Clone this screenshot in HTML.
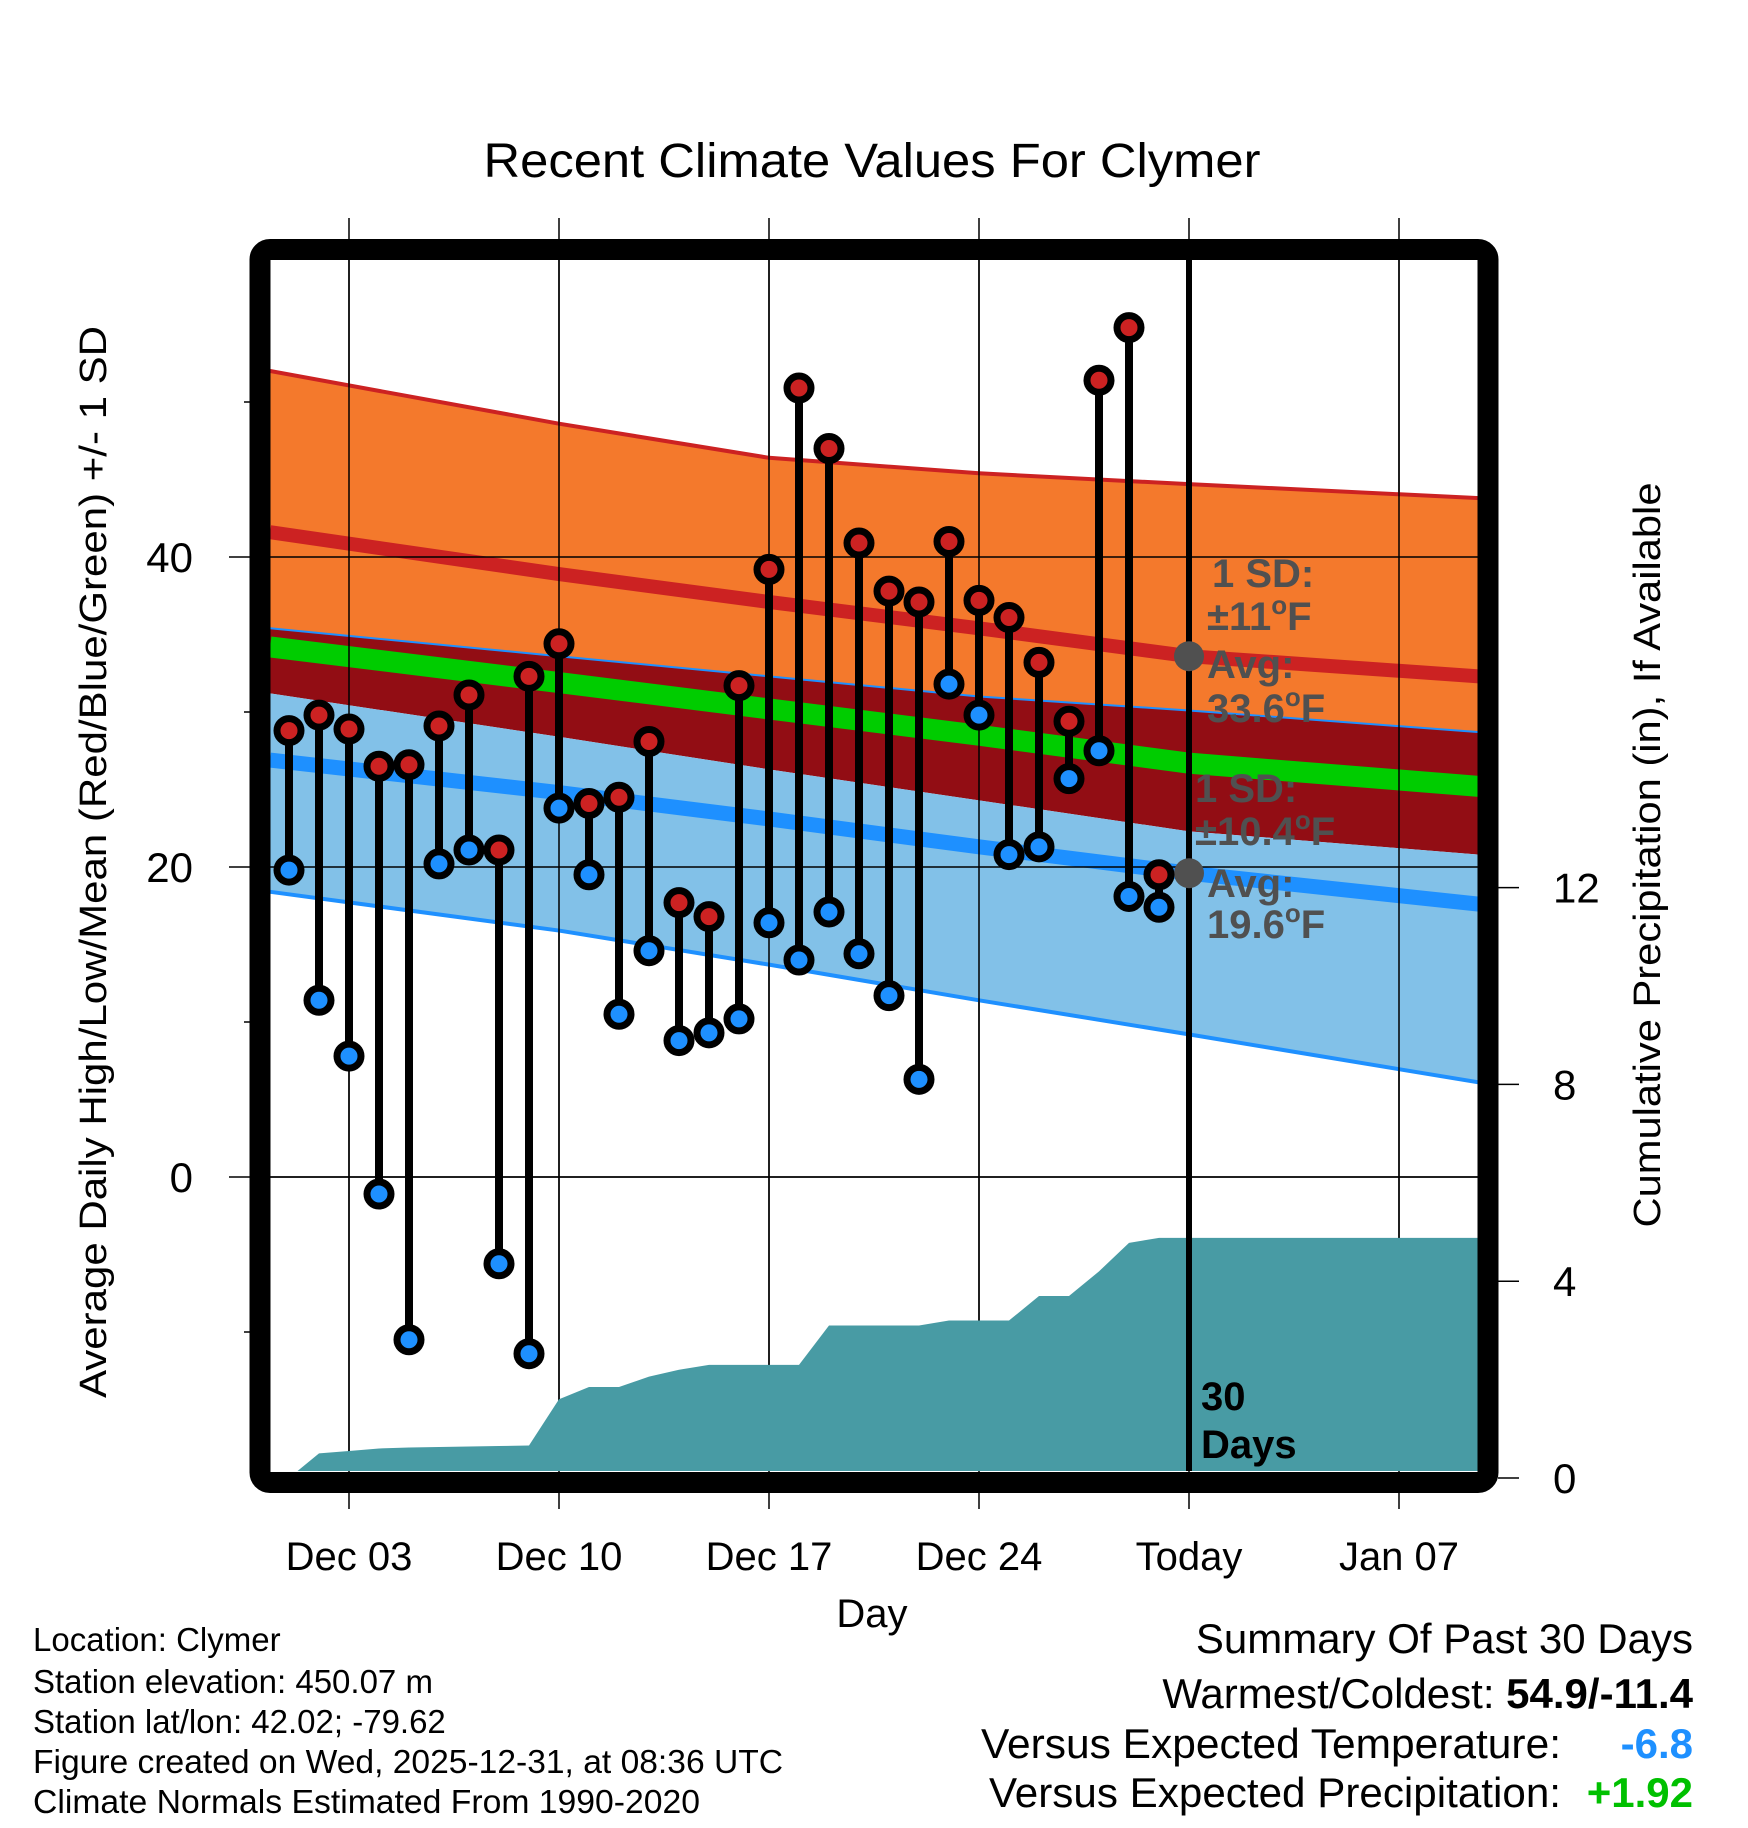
<!DOCTYPE html>
<html><head><meta charset="utf-8"><style>
html,body{margin:0;padding:0;background:#fff;}
svg{display:block;font-family:"Liberation Sans",Arial,sans-serif;}
</style></head><body>
<svg id="chart" width="1748" height="1828" viewBox="0 0 1748 1828" xmlns="http://www.w3.org/2000/svg">
<defs><clipPath id="plotclip"><rect x="270" y="260" width="1209" height="1211"/></clipPath></defs>
<rect x="0" y="0" width="1748" height="1828" fill="#fff"/>
<text x="872" y="177" font-size="48" text-anchor="middle" textLength="777" lengthAdjust="spacingAndGlyphs">Recent Climate Values For Clymer</text>
<g id="grid"></g>
<g id="bands" clip-path="url(#plotclip)"></g>
<g id="gridin" clip-path="url(#plotclip)"></g>
<g id="precip" clip-path="url(#plotclip)"></g>
<g id="annot"></g>
<g id="marks"></g>
<rect x="260" y="249.5" width="1228" height="1233" rx="10" fill="none" stroke="#000" stroke-width="21"/>
<g id="axes"></g>
<text transform="translate(106,862) rotate(-90)" font-size="38" text-anchor="middle" textLength="1072" lengthAdjust="spacingAndGlyphs">Average Daily High/Low/Mean (Red/Blue/Green) +/- 1 SD</text>
<text transform="translate(1660,855) rotate(-90)" font-size="38" text-anchor="middle" textLength="745" lengthAdjust="spacingAndGlyphs">Cumulative Precipitation (in), If Available</text>
<text x="872" y="1627" font-size="40" text-anchor="middle">Day</text>
<g font-size="33">
<text x="33" y="1651">Location: Clymer</text>
<text x="33" y="1693">Station elevation: 450.07 m</text>
<text x="33" y="1733">Station lat/lon: 42.02; -79.62</text>
<text x="33" y="1773" textLength="750" lengthAdjust="spacingAndGlyphs">Figure created on Wed, 2025-12-31, at 08:36 UTC</text>
<text x="33" y="1813" textLength="667" lengthAdjust="spacingAndGlyphs">Climate Normals Estimated From 1990-2020</text>
</g>
<g font-size="42">
<text x="1693" y="1653" text-anchor="end">Summary Of Past 30 Days</text>
<text x="1693" y="1708" text-anchor="end">Warmest/Coldest: <tspan font-weight="bold">54.9/-11.4</tspan></text>
<text x="981" y="1758" textLength="580" lengthAdjust="spacingAndGlyphs">Versus Expected Temperature:</text>
<text x="1693" y="1758" text-anchor="end" font-weight="bold" fill="#1e90ff">-6.8</text>
<text x="989" y="1807" textLength="572" lengthAdjust="spacingAndGlyphs">Versus Expected Precipitation:</text>
<text x="1693" y="1807" text-anchor="end" font-weight="bold" fill="#00c000">+1.92</text>
</g>
</svg>
<script>
// ---- data ----
const days = [1,2,3,4,5,6,7,8,9,10,11,12,13,14,15,16,17,18,19,20,21,22,23,24,25,26,27,28,29,30];
const highs = [28.8,29.8,28.9,26.5,26.6,29.1,31.1,21.1,32.3,34.4,24.1,24.5,28.1,17.7,16.8,31.7,39.2,50.9,47.0,40.9,37.8,37.1,41.0,37.2,36.1,33.2,29.4,51.4,54.8,19.5];
const lows = [19.8,11.4,7.8,-1.1,-10.5,20.2,21.1,-5.6,-11.4,23.8,19.5,10.5,14.6,8.8,9.3,10.2,16.4,14.0,17.1,14.4,11.7,6.3,31.8,29.8,20.8,21.3,25.7,27.5,18.1,17.4];
const precip = [0.0,0.5,0.55,0.6,0.62,0.63,0.64,0.65,0.66,1.6,1.85,1.85,2.06,2.2,2.3,2.3,2.3,2.3,3.1,3.1,3.1,3.1,3.2,3.2,3.2,3.7,3.7,4.2,4.78,4.88];
const normDays = [0.37,10,17,24,31,40.67];
const highUpper = [52.0,48.6,46.4,45.4,44.7,43.8];
const highMean = [41.6,38.9,37.1,35.4,33.6,32.3];
const highLower = [35.4,33.6,32.3,31.0,30.1,28.7];
const meanMean = [34.2,31.9,30.2,28.5,26.7,25.2];
const lowUpper = [31.2,28.4,26.3,24.3,22.3,20.8];
const lowMean = [26.9,24.8,23.1,21.3,19.6,17.6];
const lowLower = [18.4,15.9,13.7,11.4,9.2,6.1];
const xTickDays = [3,10,17,24,31,38];
const xTickLabels = ["Dec 03","Dec 10","Dec 17","Dec 24","Today","Jan 07"];
const yTicks = [0,20,40];
const yMinor = [-10,10,30,50];
const y2Ticks = [0,4,8,12];
const todayDay = 31;
const todayHighAvg = 33.6, todayLowAvg = 19.6;

// ---- scales ----
const X = d => 349 + (d - 3) * 30;
const Y = v => 1177 - v * 15.5;
const Y2 = p => 1478 - p * 49.2;
const NS = "http://www.w3.org/2000/svg";
function mk(tag, parent, attrs){const e=document.createElementNS(NS,tag);for(const k in attrs)e.setAttribute(k,attrs[k]);parent.appendChild(e);return e;}
const g = id => document.getElementById(id);

// grid
xTickDays.forEach((d,i)=>{
  const l = mk('line', g('grid'), {x1:X(d),x2:X(d),y1:218,y2:1509,stroke:'#000','stroke-width':1.5});
  
  
  const t = mk('text', g('axes'), {x:X(d),y:1570,'font-size':40,'text-anchor':'middle'});
  t.textContent = xTickLabels[i];
  
  
});
yTicks.forEach(v=>{
  const l = mk('line', g('grid'), {x1:229,x2:1479,y1:Y(v),y2:Y(v),stroke:'#000','stroke-width':1.5});
  
  
  const t = mk('text', g('axes'), {x:193,y:Y(v)+15,'font-size':42,'text-anchor':'end'});
  t.textContent = v;
  
  
});
yMinor.forEach(v=>{
  const l = mk('line', g('grid'), {x1:244,x2:252,y1:Y(v),y2:Y(v),stroke:'#000','stroke-width':1.5});
  
  
});
y2Ticks.forEach(p=>{
  const l = mk('line', g('axes'), {x1:1498,x2:1519,y1:Y2(p),y2:Y2(p),stroke:'#000','stroke-width':1.5});
  
  
  const t = mk('text', g('axes'), {x:1553,y:Y2(p)+15,'font-size':42});
  t.textContent = p;
  
  
});

// bands
const pts = arr => normDays.map((d,i)=>X(d)+','+Y(arr[i]));
function band(top,bot,fill,name){
  const p = mk('polygon', g('bands'), {points: pts(top).concat(pts(bot).reverse()).join(' '), fill});
  
  
}
function line(arr,color,w,name){
  const p = mk('polyline', g('bands'), {points: pts(arr).join(' '), fill:'none', stroke:color,'stroke-width':w});
  
  
}
band(highUpper,highLower,'#f4792c','high-sd-band');
band(highLower,lowUpper,'#920d14','overlap-band');
band(lowUpper,lowLower,'#82c1e8','low-sd-band');
line(highUpper,'#cc2222',4,'high-upper-line');
line(highLower,'#1e90ff',2,'high-lower-line');
line(lowLower,'#1e90ff',4,'low-lower-line');
line(highMean,'#cc2222',14,'high-mean-line');
line(meanMean,'#00cc00',21,'mean-line');
line(lowMean,'#1e90ff',15,'low-mean-line');

// inner grid lines (over bands)
xTickDays.forEach(d=>{
  const l = mk('line', g('gridin'), {x1:X(d),x2:X(d),y1:260,y2:1471,stroke:'#000','stroke-width':1.5});
  
  
});
yTicks.forEach(v=>{
  const l = mk('line', g('gridin'), {x1:270,x2:1479,y1:Y(v),y2:Y(v),stroke:'#000','stroke-width':1.5});
  
  
});

// precip
let pp = days.map((d,i)=>X(d)+','+Y2(precip[i]));
pp.push(1490+','+Y2(precip[precip.length-1]));
pp.push(1490+','+1480);
pp.push(X(days[0])+','+1480);
const pa = mk('polygon', g('precip'), {points: pp.join(' '), fill:'#489ba4'});



// today line
const tl = mk('line', g('annot'), {x1:X(todayDay),x2:X(todayDay),y1:260,y2:1471,stroke:'#000','stroke-width':6});



// annotation text
function atext(x,y,s,fill,name,sup){
  const t = mk('text', g('annot'), {x,y,'font-size':40,'font-weight':'bold',fill});
  t.textContent = s;
  if(sup){
    const a = mk('tspan', t, {'font-size':26,dy:-16}); a.textContent='o';
    const b = mk('tspan', t, {dy:16}); b.textContent='F';
  }
  
  
}
const gc = '#505050';
atext(1212,587,'1 SD:',gc,'high-sd-label');
atext(1207,630,'\u00b111',gc,'high-sd-value',true);
atext(1207,678,'Avg:',gc,'high-avg-label');
atext(1207,722,todayHighAvg.toFixed(1),gc,'high-avg-value',true);
atext(1195,802,'1 SD:',gc,'low-sd-label');
atext(1195,845,'\u00b110.4',gc,'low-sd-value',true);
atext(1207,897,'Avg:',gc,'low-avg-label');
atext(1207,938,todayLowAvg.toFixed(1),gc,'low-avg-value',true);
atext(1201,1410,'30','#000','days-count');
atext(1201,1458,'Days','#000','days-label');
[todayHighAvg,todayLowAvg].forEach(v=>{
  const c = mk('circle', g('annot'), {cx:X(todayDay),cy:Y(v),r:15,fill:'#505050'});
  
  
});

// marks
days.forEach((d,i)=>{
  const s = mk('line', g('marks'), {x1:X(d),x2:X(d),y1:Y(highs[i]),y2:Y(lows[i]),stroke:'#000','stroke-width':8});
  
  
});
days.forEach((d,i)=>{
  const h = mk('circle', g('marks'), {cx:X(d),cy:Y(highs[i]),r:12,fill:'#cc2222',stroke:'#000','stroke-width':7});
  
  
  const l = mk('circle', g('marks'), {cx:X(d),cy:Y(lows[i]),r:12,fill:'#1e90ff',stroke:'#000','stroke-width':7});
  
  
});
</script>
</body></html>
